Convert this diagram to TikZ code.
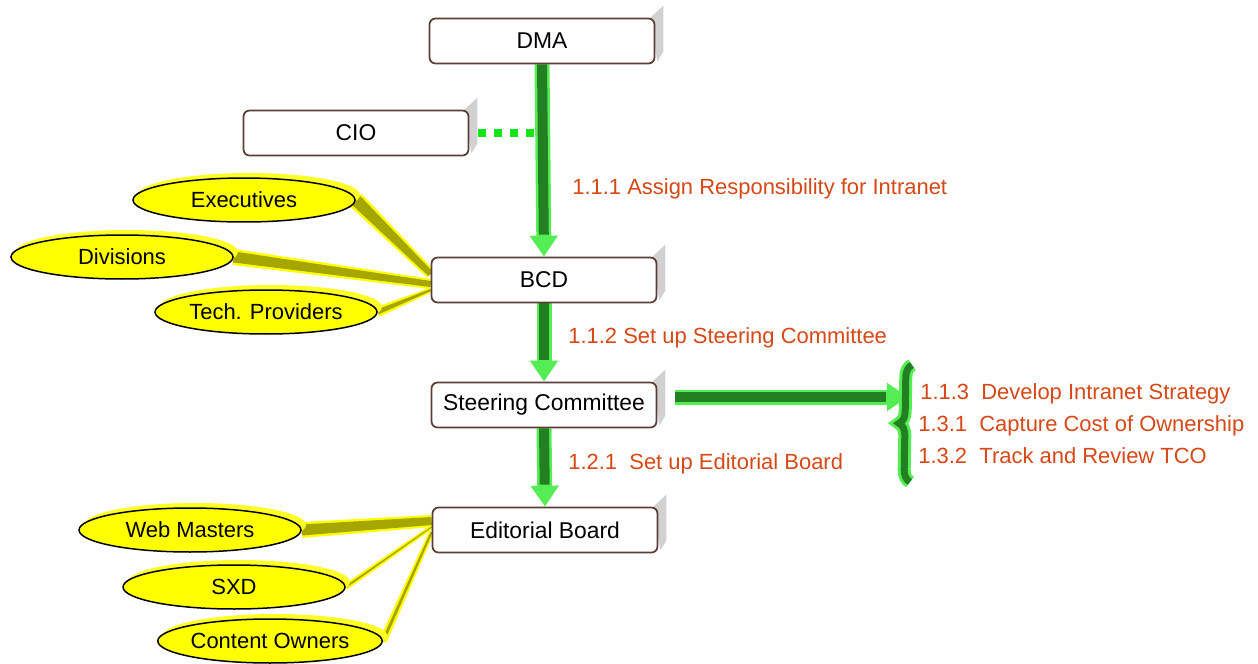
\documentclass[tikz,border=0pt]{standalone}
\usepackage{fontspec}
\setmainfont{Liberation Sans}
\usetikzlibrary{arrows.meta,positioning,shapes.geometric,calc,decorations.pathreplacing,backgrounds}
\definecolor{gdark}{RGB}{34,128,34}
\definecolor{glight}{RGB}{84,238,84}
\definecolor{gdot}{RGB}{24,228,24}
\definecolor{tone}{RGB}{255,255,0}
\definecolor{olv}{RGB}{166,166,0}
\definecolor{rim}{RGB}{92,62,52}
\definecolor{task}{RGB}{214,72,22}

% tapered band from a group to its box: outer half widths #3/#4, inner #5/#6
\newcommand{\feeder}[6]{%
  \fill[tone] ($(#1)!#3!90:(#2)$) -- ($(#2)!#4!-90:(#1)$) -- ($(#2)!#4!90:(#1)$) -- ($(#1)!#3!-90:(#2)$) -- cycle;
  \fill[olv] ($(#1)!#5!90:(#2)$) -- ($(#2)!#6!-90:(#1)$) -- ($(#2)!#6!90:(#1)$) -- ($(#1)!#5!-90:(#2)$) -- cycle;
}

\begin{document}
\begin{tikzpicture}[x=0.02cm, y=-0.02cm,
    box/.style={rectangle, rounded corners=0.12cm, draw=rim, line width=0.035cm, fill=white, minimum width=4.5cm, minimum height=0.9cm, font=\fontsize{13}{15}\selectfont},
    pill/.style={ellipse, draw=black, line width=0.03cm, fill=tone, minimum width=4.44cm, minimum height=0.88cm, inner sep=0pt, font=\fontsize{12.5}{15}\selectfont, preaction={fill=tone!85!white, transform canvas={xshift=0.1cm, yshift=0.1cm}}},
    glink/.style={draw=glight, line width=0.3cm, -{Triangle[length=0.42cm, width=0.54cm]}, postaction={draw=gdark, line width=0.2cm, shorten >=0.44cm, -}},
    brc/.style={decorate, decoration={brace, amplitude=0.24cm}},
    lbl/.style={anchor=base west, inner sep=0pt, text=task, font=\fontsize{12.5}{15}\selectfont}
]
    \useasboundingbox (0,0) rectangle (1258,663);

    % Org boxes
    \node[box] (dma) at (542,41) {DMA};
    \node[box] (cio) at (356,133) {CIO};
    \node[box] (bcd) at (544,280) {BCD};
    \node[box] (steer) at (544,405) {Steering Committee};
    \node[box] (edit) at (545,530) {Editorial Board};

    % Groups feeding in
    \node[pill] (exec) at (244,200) {Executives};
    \node[pill] (div) at (122,257) {Divisions};
    \node[pill] (tech) at (266,312) {Tech. Providers};
    \node[pill] (web) at (190,530) {Web Masters};
    \node[pill] (sxd) at (234,587) {SXD};
    \node[pill] (own) at (270,641) {Content Owners};

    % Task labels
    \node[lbl] (l1) at (572,194) {1.1.1 Assign Responsibility for Intranet};
    \node[lbl] (l2) at (568,343) {1.1.2 Set up Steering Committee};
    \node[lbl] (l3) at (568,469) {1.2.1\ \ Set up Editorial Board};
    \node[lbl] (t1) at (920,399) {1.1.3\ \ Develop Intranet Strategy};
    \node[lbl] (t2) at (918,431) {1.3.1\ \ Capture Cost of Ownership};
    \node[lbl] (t3) at (918,463) {1.3.2\ \ Track and Review TCO};

    \coordinate (bcd1) at ($(bcd.west)+(0,-6)$);
    \coordinate (bcd2) at ($(bcd.west)+(0,4)$);
    \coordinate (bcd3) at ($(bcd.west)+(0,10)$);
    \coordinate (edit1) at ($(edit.west)+(0,-9)$);
    \coordinate (edit2) at ($(edit.west)+(0,-3)$);
    \coordinate (edit3) at ($(edit.west)+(0,2)$);
    \coordinate (tap) at ($(dma.south |- cio.east)+(-8,0)$);

    \begin{pgfonlayer}{background}
    % 3D side of the boxes
    \foreach \b in {dma,cio,bcd,steer,edit}
        \fill[black!18] ($(\b.north east)+(-5,0)$) -- ++(13,-12) -- ++(0,46) -- ($(\b.south east)+(2,-3)$) -- cycle;

    \feeder{exec.east}{bcd1}{0.17cm}{0.1cm}{0.12cm}{0.06cm}
    \feeder{div.east}{bcd2}{0.16cm}{0.1cm}{0.11cm}{0.06cm}
    \feeder{tech.east}{bcd3}{0.1cm}{0.05cm}{0.05cm}{0.02cm}
    \feeder{web.east}{edit1}{0.16cm}{0.12cm}{0.11cm}{0.08cm}
    \feeder{sxd.east}{edit2}{0.06cm}{0.04cm}{0.02cm}{0.01cm}
    \feeder{own.east}{edit3}{0.08cm}{0.05cm}{0.03cm}{0.02cm}

    % Green flow
    \draw[glink] (dma.south) -- (bcd.north);
    \draw[glink] (bcd.south) -- (steer.north);
    \draw[glink] (steer.south) -- (edit.north);
    \draw[glink] ($(steer.east)+(18,-8)$) -- ($(t1.base west)+(-12,-2)$);
    \draw[gdot, line width=0.16cm, dash pattern=on 0.16cm off 0.16cm, shorten <=0.18cm] (cio.east) -- (tap);
    \end{pgfonlayer}

    % Brace round the strategy tasks
    \draw[brc, glight, line width=0.26cm] ($(t3.base west)+(-8,19)$) -- ($(t1.base west)+(-8,-34)$);
    \draw[brc, gdark, line width=0.14cm] ($(t3.base west)+(-8,19)$) -- ($(t1.base west)+(-8,-34)$);
\end{tikzpicture}
\end{document}
